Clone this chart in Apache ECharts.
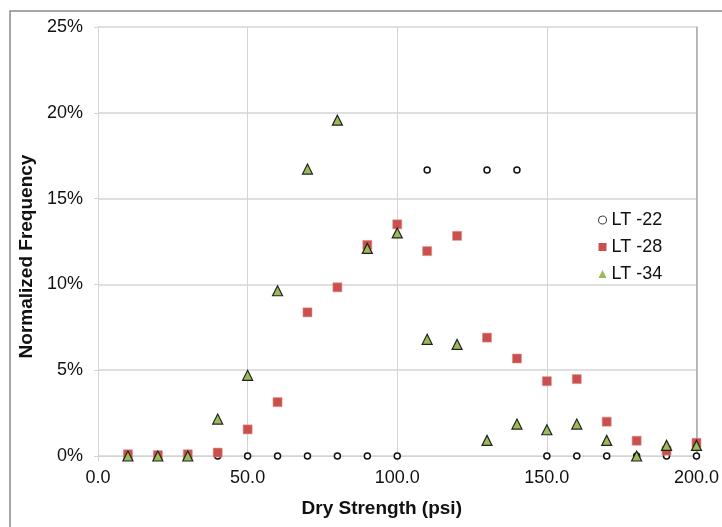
<!DOCTYPE html>
<html>
<head>
<meta charset="utf-8">
<script src="https://cdn.jsdelivr.net/npm/echarts@6/dist/echarts.min.js"></script>
<style>
  html, body { margin: 0; padding: 0; background: #fff; }
  #chart { width: 722px; height: 527px; }
</style>
</head>
<body>
<div id="chart"></div>
<script>
// dry strength bins (psi)
var strength = [10, 20, 30, 40, 50, 60, 70, 80, 90, 100, 110, 120, 130, 140, 150, 160, 170, 180, 190, 200];
// normalized frequency, %
var lt22 = [0, 0, 0, 0, 0, 0, 0, 0, 0, 0, 16.67, null, 16.67, 16.67, 0, 0, 0, 0, 0, 0];
var lt28 = [0.1, 0.05, 0.1, 0.2, 1.55, 3.14, 8.37, 9.83, 12.3, 13.5, 11.94, 12.83, 6.9, 5.68, 4.36, 4.48, 2.0, 0.89, 0.31, 0.77];
var lt34 = [0, 0, 0, 2.15, 4.7, 9.63, 16.72, 19.57, 12.1, 13.0, 6.8, 6.5, 0.91, 1.86, 1.53, 1.86, 0.91, 0, 0.62, 0.62];

var seriesNames = ['LT -22', 'LT -28', 'LT -34'];

function pairs(vals) {
    var out = [];
    for (var i = 0; i < strength.length; i++) {
        if (vals[i] !== null) out.push([strength[i], vals[i]]);
    }
    return out;
}

var chart = echarts.init(document.getElementById('chart'));
var font = 'Liberation Sans, Arial, sans-serif';

var option = {
    animation: false,
    textStyle: { fontFamily: font },
    graphic: [{
        type: 'rect',
        shape: { x: 10, y: 11, width: 800, height: 600 },
        style: { fill: 'none', stroke: '#8a8a8a', lineWidth: 1.5 },
        silent: true
    }],
    grid: { left: 98, right: 25, top: 27, bottom: 71 },
    legend: {
        orient: 'vertical',
        left: 593,
        top: 206,
        itemWidth: 8,
        itemHeight: 8,
        itemGap: 9,
        textStyle: { fontSize: 18, color: '#111', fontFamily: font },
        data: [
            { name: seriesNames[0], icon: 'path://M4,1A3,3,0,1,1,3.99,1Z', itemStyle: { color: '#fff', borderColor: '#333', borderWidth: 1 } },
            { name: seriesNames[1], icon: 'rect', itemStyle: { color: '#c9504c', borderWidth: 0 } },
            { name: seriesNames[2], icon: 'triangle', itemStyle: { color: '#9bbb59', borderWidth: 0 } }
        ]
    },
    xAxis: {
        type: 'value',
        min: 0,
        max: 200,
        interval: 50,
        name: 'Dry Strength (psi)',
        nameLocation: 'middle',
        nameGap: 43,
        nameTextStyle: { fontSize: 19, fontWeight: 'bold', color: '#111', padding: [0, 31, 0, 0] },
        axisLine: { show: true, lineStyle: { color: '#d4d4d4' } },
        axisTick: { show: true, length: 5, lineStyle: { color: '#d4d4d4' } },
        axisLabel: {
            fontSize: 18, color: '#111', margin: 13,
            formatter: function (v) { return v.toFixed(1); }
        },
        splitLine: { show: true, lineStyle: { color: '#d4d4d4' } }
    },
    yAxis: [{
        type: 'value',
        min: 0,
        max: 25,
        interval: 5,
        name: 'Normalized Frequency',
        nameLocation: 'middle',
        nameGap: 56,
        nameTextStyle: { fontSize: 19, fontWeight: 'bold', color: '#111', padding: [0, 30, 0, 0] },
        axisLine: { show: true, lineStyle: { color: '#d4d4d4' } },
        axisTick: { show: true, length: 4, lineStyle: { color: '#d4d4d4' } },
        axisLabel: { fontSize: 18, color: '#111', margin: 15, formatter: '{value}%' },
        splitLine: { show: true, lineStyle: { color: '#d4d4d4', width: 1.5 } }
    }, {
        type: 'value',
        position: 'right',
        min: 0,
        max: 25,
        interval: 5,
        axisLine: { show: true, lineStyle: { color: '#a8a8a8', width: 1.5 } },
        axisTick: { show: false },
        axisLabel: { show: false },
        splitLine: { show: false }
    }],
    series: [
        {
            name: seriesNames[0],
            type: 'scatter',
            symbol: 'circle',
            symbolSize: 6,
            itemStyle: { color: '#fff', borderColor: '#111', borderWidth: 1.5, opacity: 1 },
            data: pairs(lt22),
            z: 2
        },
        {
            name: seriesNames[1],
            type: 'scatter',
            symbol: 'rect',
            symbolSize: 9,
            itemStyle: { color: '#c9504c', borderColor: '#e08a86', borderWidth: 0.6, opacity: 1 },
            data: pairs(lt28),
            z: 3
        },
        {
            name: seriesNames[2],
            type: 'scatter',
            symbol: 'triangle',
            symbolSize: 10,
            itemStyle: { color: '#9bbb59', borderColor: '#222', borderWidth: 1.2, opacity: 1 },
            data: pairs(lt34),
            z: 4
        }
    ]
};

chart.setOption(option);
</script>
</body>
</html>
